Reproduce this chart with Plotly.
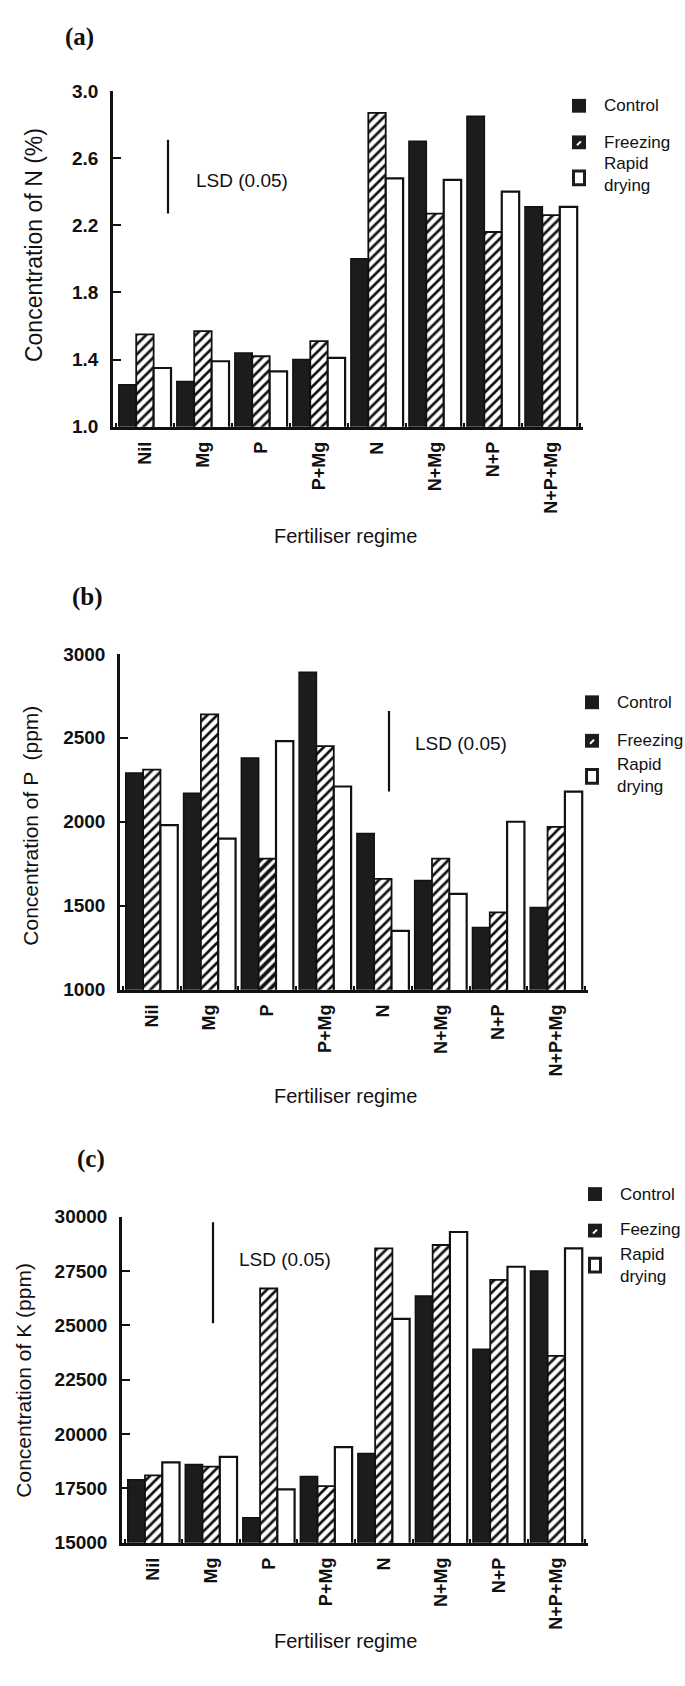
import plotly.graph_objects as go

W, H = 685, 1686

regimes = ["Nil", "Mg", "P", "P+Mg", "N", "N+Mg", "N+P", "N+P+Mg"]

# (a) nitrogen, %
n_control = [1.25, 1.27, 1.44, 1.40, 2.00, 2.70, 2.85, 2.31]
n_freezing = [1.55, 1.57, 1.42, 1.51, 2.87, 2.27, 2.16, 2.26]
n_rapid = [1.35, 1.39, 1.33, 1.41, 2.48, 2.47, 2.40, 2.31]
n_lsd = [2.27, 2.71]

# (b) phosphorus, ppm
p_control = [2290, 2170, 2380, 2890, 1930, 1650, 1370, 1490]
p_freezing = [2310, 2640, 1780, 2450, 1660, 1780, 1460, 1970]
p_rapid = [1980, 1900, 2480, 2210, 1350, 1570, 2000, 2180]
p_lsd = [2180, 2660]

# (c) potassium, ppm
k_control = [17900, 18600, 16150, 18050, 19100, 26350, 23900, 27500]
k_freezing = [18100, 18500, 26700, 17600, 28550, 28700, 27100, 23600]
k_rapid = [18700, 18950, 17450, 19400, 25300, 29300, 27700, 28550]
k_lsd = [25100, 29750]

SANS = "Liberation Sans, Arial, sans-serif"
SERIF = "Liberation Serif, Times New Roman, serif"
INK = "#111"


def px(x):
    return x / W


def py(y):
    return 1 - y / H


panels = [
    dict(
        key="", label="(a)", label_pos=(63, 27),
        values=(n_control, n_freezing, n_rapid),
        legend_names=["Control", "Freezing", "Rapid<br>drying"],
        yrange=[1.0, 3.0], tickvals=[1.0, 1.4, 1.8, 2.2, 2.6, 3.0], tickformat=".1f",
        xdom=(113, 583), ytop=82, ybot=422,
        ytitle="Concentration of N (%)", ytitle_x=34, ytitle_y=238, ytitle_size=23,
        xtitle_y=533,
        lsd=n_lsd, lsd_x=168, lsd_text=(194, 173),
        legend_x=572, legend_rows=[97, 134, 170], legend_text_y=[97, 134, 167],
        pattern_solidity=[0.38] * 8,
    ),
    dict(
        key="2", label="(b)", label_pos=(70, 594),
        values=(p_control, p_freezing, p_rapid),
        legend_names=["Control", "Freezing", "Rapid<br>drying"],
        yrange=[1000, 3000], tickvals=[1000, 1500, 2000, 2500, 3000], tickformat="d",
        xdom=(120, 588), ytop=652, ybot=992,
        ytitle="Concentration of P  (ppm)", ytitle_x=31, ytitle_y=826, ytitle_size=21,
        xtitle_y=1100,
        lsd=p_lsd, lsd_x=389, lsd_text=(413, 743),
        legend_x=585, legend_rows=[701, 740, 776], legend_text_y=[701, 740, 775],
        pattern_solidity=[0.38, 0.38, 0.55, 0.38, 0.38, 0.38, 0.38, 0.38],
    ),
    dict(
        key="3", label="(c)", label_pos=(75, 1163),
        values=(k_control, k_freezing, k_rapid),
        legend_names=["Control", "Feezing", "Rapid<br>drying"],
        yrange=[15000, 30000], tickvals=[15000, 17500, 20000, 22500, 25000, 27500, 30000],
        tickformat="d",
        xdom=(122, 588), ytop=1222, ybot=1552,
        ytitle="Concentration of K (ppm)", ytitle_x=24, ytitle_y=1388, ytitle_size=21,
        xtitle_y=1652,
        lsd=k_lsd, lsd_x=213, lsd_text=(237, 1265),
        legend_x=588, legend_rows=[1199, 1236, 1271], legend_text_y=[1199, 1235, 1271],
        pattern_solidity=[0.38] * 8,
    ),
]

fig = go.Figure()
shapes = []
annotations = []
layout_axes = {}

for p in panels:
    k = p["key"]
    xa, ya = "x" + k, "y" + k
    ctrl, frz, rap = p["values"]

    fig.add_trace(go.Bar(
        x=regimes, y=ctrl, name="Control", xaxis=xa, yaxis=ya, showlegend=False,
        marker=dict(color="#1c1c1c", line=dict(color=INK, width=1.5)),
    ))
    fig.add_trace(go.Bar(
        x=regimes, y=frz, name="Freezing", xaxis=xa, yaxis=ya, showlegend=False,
        marker=dict(
            color="white", line=dict(color=INK, width=1.8),
            pattern=dict(shape="/", fillmode="overlay", fgcolor=INK, fgopacity=1,
                         size=7, solidity=p["pattern_solidity"]),
        ),
    ))
    fig.add_trace(go.Bar(
        x=regimes, y=rap, name="Rapid drying", xaxis=xa, yaxis=ya, showlegend=False,
        marker=dict(color="white", line=dict(color=INK, width=2.2)),
    ))

    x0, x1 = p["xdom"]
    layout_axes["xaxis" + k] = dict(
        domain=[px(x0), px(x1)], anchor=ya, type="category",
        range=[-0.55, 7.55], showline=True, linecolor=INK, linewidth=2.5,
        ticks="inside", tickson="boundaries", ticklen=4, tickwidth=1.5, tickcolor=INK,
        tickangle=-90, showgrid=False, zeroline=False,
        tickfont=dict(family=SANS, size=18, color=INK, weight="bold"),
        ticklabelstandoff=5,
    )
    layout_axes["yaxis" + k] = dict(
        domain=[py(p["ybot"]), py(p["ytop"])], anchor=xa,
        range=p["yrange"], tickvals=p["tickvals"], tickformat=p["tickformat"],
        showline=True, linecolor=INK, linewidth=2.5,
        ticks="inside", ticklen=8, tickwidth=2, tickcolor=INK,
        showgrid=False, zeroline=False,
        tickfont=dict(family=SANS, size=19, color=INK, weight="bold"),
        ticklabelstandoff=8,
    )

    # least significant difference bar
    fx = (p["lsd_x"] - x0) / (x1 - x0)
    shapes.append(dict(
        type="line", xref=xa + " domain", yref=ya,
        x0=fx, x1=fx, y0=p["lsd"][0], y1=p["lsd"][1],
        line=dict(color=INK, width=2.2),
    ))
    annotations.append(dict(
        text="LSD (0.05)", xref="paper", yref="paper",
        x=px(p["lsd_text"][0]), y=py(p["lsd_text"][1]),
        xanchor="left", yanchor="middle", showarrow=False,
        font=dict(family=SANS, size=19, color=INK),
    ))

    # panel label
    annotations.append(dict(
        text="<b>" + p["label"] + "</b>", xref="paper", yref="paper",
        x=px(p["label_pos"][0]), y=py(p["label_pos"][1]),
        xanchor="left", yanchor="middle", showarrow=False,
        font=dict(family=SERIF, size=25, color=INK),
    ))

    # axis titles
    annotations.append(dict(
        text=p["ytitle"], xref="paper", yref="paper",
        x=px(p["ytitle_x"]), y=py(p["ytitle_y"]),
        xanchor="center", yanchor="middle", textangle=-90, showarrow=False,
        font=dict(family=SANS, size=p["ytitle_size"], color=INK),
    ))
    annotations.append(dict(
        text="Fertiliser regime", xref="paper", yref="paper",
        x=px(345), y=py(p["xtitle_y"]),
        xanchor="center", yanchor="middle", showarrow=False,
        font=dict(family=SANS, size=20, color=INK),
    ))

    # legend keys
    lx = p["legend_x"]
    r0, r1, r2 = p["legend_rows"]
    s = 14
    shapes.append(dict(type="rect", xref="paper", yref="paper",
                       x0=px(lx), x1=px(lx + s), y0=py(r0 + s / 2), y1=py(r0 - s / 2),
                       fillcolor="#1c1c1c", line=dict(width=0)))
    shapes.append(dict(type="rect", xref="paper", yref="paper",
                       x0=px(lx), x1=px(lx + s), y0=py(r1 + s / 2), y1=py(r1 - s / 2),
                       fillcolor="#1c1c1c", line=dict(width=0)))
    shapes.append(dict(type="line", xref="paper", yref="paper",
                       x0=px(lx + 5), x1=px(lx + 9), y0=py(r1 + 3), y1=py(r1 - 1),
                       line=dict(color="white", width=2)))
    shapes.append(dict(type="rect", xref="paper", yref="paper",
                       x0=px(lx + 1.5), x1=px(lx + s - 1.5), y0=py(r2 + s / 2),
                       y1=py(r2 - s / 2),
                       fillcolor="white", line=dict(color="#1c1c1c", width=3)))
    for name, ty in zip(p["legend_names"], p["legend_text_y"]):
        annotations.append(dict(
            text=name, xref="paper", yref="paper",
            x=px(lx + 30), y=py(ty), xanchor="left", yanchor="middle",
            align="left", showarrow=False,
            font=dict(family=SANS, size=17, color=INK),
        ))

fig.update_layout(
    width=W, height=H,
    margin=dict(l=0, r=0, t=0, b=0),
    paper_bgcolor="white", plot_bgcolor="white",
    barmode="group", bargap=0.1, bargroupgap=0.0,
    showlegend=False,
    shapes=shapes, annotations=annotations,
    **layout_axes,
)

fig.write_html("out.html")
